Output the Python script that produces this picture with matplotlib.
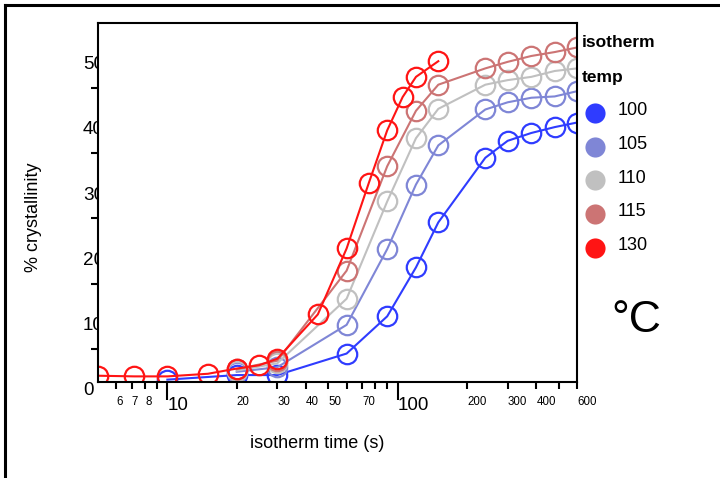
import matplotlib
matplotlib.use('Agg')
import matplotlib.pyplot as plt
from matplotlib.lines import Line2D
from matplotlib.transforms import blended_transform_factory

plt.rcParams['font.family'] = ['Liberation Sans', 'DejaVu Sans']

# isotherm temperatures and their colours
temps = ['100', '105', '110', '115', '130']
colors = ['#2f3cff', '#7f86d6', '#c0c0c0', '#cc7474', '#ff1414']

# isotherm time (s) and % crystallinity per temperature
t_100 = [10, 20, 30, 60, 90, 120, 150, 240, 300, 380, 480, 600]
y_100 = [0.3, 1.0, 1.0, 4.3, 10.0, 17.5, 24.4, 34.3, 36.9, 38.1, 39.0, 39.7]

t_105 = [20, 30, 60, 90, 120, 150, 240, 300, 380, 480, 600]
y_105 = [1.5, 2.2, 8.7, 20.3, 30.2, 36.2, 41.7, 42.8, 43.5, 43.7, 44.5]

t_110 = [20, 30, 60, 90, 120, 150, 240, 300, 380, 480, 600]
y_110 = [1.7, 2.8, 12.7, 27.6, 37.3, 41.8, 45.5, 46.2, 46.7, 47.6, 48.0]

t_115 = [20, 30, 60, 90, 120, 150, 240, 300, 380, 480, 600]
y_115 = [1.9, 3.2, 17.0, 33.0, 41.5, 45.5, 48.0, 49.0, 49.9, 50.5, 51.2]

t_130 = [5, 7.2, 10, 15, 20, 25, 30, 45, 60, 75, 90, 105, 120, 150]
y_130 = [0.9, 0.8, 0.8, 1.2, 2.0, 2.5, 3.5, 10.3, 20.4, 30.5, 38.5, 43.6, 46.7, 49.1]

series = [(t_100, y_100), (t_105, y_105), (t_110, y_110), (t_115, y_115), (t_130, y_130)]

# tick labels
x_major = [10, 100]
x_minor = [6, 7, 8, 9, 20, 30, 40, 50, 60, 70, 80, 90, 200, 300, 400, 500, 600]
x_minor_labels = ['6', '7', '8', '', '20', '30', '40', '50', '', '70', '', '', '200', '300', '400', '', '600']
y_labels = [0, 10, 20, 30, 40, 50]
y_minor = [5, 15, 25, 35, 45]

W, H = 720, 478
fig = plt.figure(figsize=(7.2, 4.78), dpi=100)
ax = fig.add_axes([98 / W, 1 - 381.6 / H, 479 / W, (381.6 - 22.7) / H])
ax.patch.set_facecolor('white')

for (t, y), c in zip(series, colors):
    ax.plot(t, y, color=c, lw=1.5, marker='o', ms=14, mfc='none', mec=c, mew=1.6)

ax.set_xscale('log')
ax.set_xlim(5, 600)
ax.set_ylim(0, 55)

for s in ax.spines.values():
    s.set_linewidth(1.5)

ax.set_xticks(x_major, ['10', '100'])
ax.set_xticks(x_minor, x_minor_labels, minor=True)
ax.tick_params(axis='x', which='major', length=13, width=1.5, pad=-2, labelsize=13.6)
ax.tick_params(axis='x', which='minor', length=5, width=1.5, pad=5.5, labelsize=8.3)
for lab in ax.get_xticklabels(which='both'):
    lab.set_ha('left')

ax.set_yticks(y_minor)
ax.set_yticklabels([])
ax.tick_params(axis='y', length=5, width=1.5)

# y labels sit partly under the axes, as in the original
tr = blended_transform_factory(fig.transFigure, ax.transData)
for v in y_labels:
    fig.text(83 / W, v - 2.1, str(v), transform=tr, ha='left', va='baseline',
             fontsize=13.6, zorder=-1)

fig.text(317 / W, 1 - 443 / H, 'isotherm time (s)', ha='center', va='center', fontsize=13)
fig.text(34 / W, 1 - 217 / H, '% crystallinity', ha='center', va='center',
         rotation=90, fontsize=13)

# legend
fig.text(582 / W, 1 - 46.7 / H, 'isotherm', fontsize=12.5, fontweight='bold', va='baseline')
fig.text(582 / W, 1 - 82 / H, 'temp', fontsize=12.5, fontweight='bold', va='baseline')
leg_y = [112.7, 146.5, 180.3, 214.1, 248.0]
for ly, lab, c in zip(leg_y, temps, colors):
    fig.add_artist(Line2D([595 / W], [1 - ly / H], marker='o', ms=14.5, color=c,
                          mec='none', transform=fig.transFigure))
    fig.text(618 / W, 1 - (ly + 2.3) / H, lab, fontsize=13, va='baseline')
fig.text(611 / W, 1 - 331.7 / H, '°C', fontsize=32, va='baseline')

# frame around the figure (top and left edges)
fig.add_artist(Line2D([5 / W, 1], [1 - 5 / H, 1 - 5 / H], color='black', lw=2.2,
                      transform=fig.transFigure))
fig.add_artist(Line2D([5 / W, 5 / W], [0, 1 - 5 / H], color='black', lw=2.2,
                      transform=fig.transFigure))

fig.savefig('out.png', dpi=100, facecolor='white')
